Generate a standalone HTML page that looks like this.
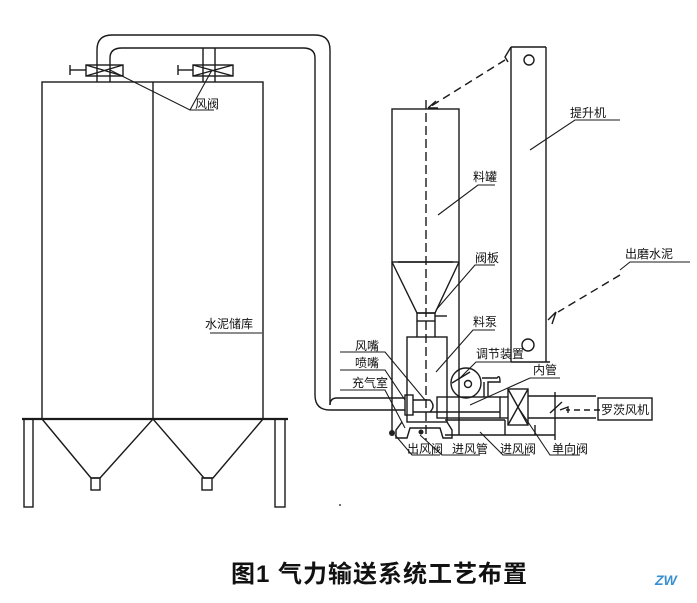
<!DOCTYPE html>
<html><head><meta charset="utf-8"><style>
html,body{margin:0;padding:0;background:#fff;}
svg text{font-family:"Liberation Sans","Noto Sans CJK SC",sans-serif;fill:#111;}
</style></head><body>
<svg width="697" height="598" viewBox="0 0 697 598" xmlns="http://www.w3.org/2000/svg">
<g fill="none" stroke="#1a1a1a" stroke-width="1.4">
<!-- silos -->
<rect x="42" y="82" width="221" height="337"/>
<line x1="153" y1="82" x2="153" y2="419"/>
<line x1="22" y1="419" x2="288" y2="419" stroke-width="2.2"/>
<rect x="24" y="419" width="9" height="88"/>
<rect x="275" y="419" width="10" height="88"/>
<polyline points="42,419 91,478 100,478 153,419 204,478 213,478 263,419"/>
<rect x="91" y="478" width="9" height="12"/>
<rect x="202" y="478" width="10" height="12"/>
<!-- pipes -->
<path d="M97,62 L97,50 Q97,35 112,35 L315,35 Q330,35 330,50 L330,405"/>
<path d="M110,62 L110,58 Q110,48 122,48 L303,48 Q315,48 315,58 L315,395 Q315,410 330,410 L405,410"/>
<path d="M330,405 Q330,398 337,398 L405,398"/>
<path d="M203,62 L203,48 M215,62 L215,48"/>
<line x1="97" y1="62" x2="97" y2="82"/><line x1="110" y1="62" x2="110" y2="82"/>
<line x1="203" y1="62" x2="203" y2="82"/><line x1="215" y1="62" x2="215" y2="82"/>
<!-- valves -->
<line x1="70" y1="65" x2="70" y2="75"/><line x1="70" y1="70" x2="86" y2="70"/>
<rect x="86" y="65" width="37" height="11"/><path d="M86,65 L123,76 M86,76 L123,65"/>
<line x1="178" y1="65" x2="178" y2="75"/><line x1="178" y1="70" x2="193" y2="70"/>
<rect x="193" y="65" width="40" height="11"/><path d="M193,65 L233,76 M193,76 L233,65"/>
<polyline points="110,70 190,110 214,110" stroke-width="1.1"/>
<line x1="190" y1="110" x2="212" y2="70" stroke-width="1.1"/>
<!-- material tank -->
<rect x="392" y="109" width="67" height="153"/>
<line x1="392" y1="262" x2="392" y2="435"/><line x1="459" y1="262" x2="459" y2="435"/>
<polyline points="392,262 417,313 435,313 459,262"/>
<line x1="398" y1="262" x2="453" y2="262"/>
<rect x="417" y="313" width="18" height="8"/>
<line x1="417" y1="321" x2="417" y2="337"/><line x1="435" y1="321" x2="435" y2="337"/>
<line x1="435" y1="316" x2="447" y2="316"/>
<rect x="407" y="337" width="40" height="85"/>
<line x1="426" y1="100" x2="426" y2="440" stroke-dasharray="9,4"/>
<!-- pump bottom -->
<polyline points="402,422 396,430 396,438 407,438 410,428 440,428 443,438 452,438 452,430 447,422"/>
<rect x="405" y="395" width="8" height="20"/>
<path d="M413,400 L430,400 Q436,406 430,412 L413,412"/>
<rect x="437" y="397" width="63" height="21"/>
<line x1="430" y1="412" x2="500" y2="412"/>
<line x1="445" y1="420" x2="505" y2="420"/>
<line x1="445" y1="435" x2="555" y2="435"/>
<line x1="505" y1="420" x2="505" y2="435"/><line x1="535" y1="425" x2="535" y2="435"/>
<rect x="508" y="389" width="20" height="36"/><path d="M508,389 L528,425 M508,425 L528,389"/>
<line x1="500" y1="397" x2="508" y2="397"/><line x1="500" y1="418" x2="508" y2="418"/>
<line x1="528" y1="396" x2="596" y2="396"/><line x1="528" y1="418" x2="596" y2="418"/>
<line x1="555" y1="392" x2="555" y2="440"/>
<line x1="550" y1="413" x2="562" y2="402"/>
<circle cx="466" cy="383" r="15"/><circle cx="468" cy="384" r="3.5"/>
<line x1="452" y1="383" x2="470" y2="372"/>
<path d="M482,378 L497,378 Q500,374 500,382 L497,382 L488,382 L488,397 M484,382 L484,397"/>
<!-- elevator -->
<line x1="511" y1="47" x2="511" y2="362"/><line x1="546" y1="47" x2="546" y2="362"/>
<line x1="511" y1="47" x2="546" y2="47"/>
<line x1="511" y1="362" x2="550" y2="362"/>
<circle cx="529" cy="60" r="5"/><circle cx="528" cy="345" r="6"/>
<path d="M511,47 L505,57 L508,62"/>
<line x1="505" y1="60" x2="428" y2="108" stroke-dasharray="8,5"/>
<path d="M428,108 L436,101 M428,108 L438,108"/>
<line x1="620" y1="275" x2="558" y2="312" stroke-dasharray="8,5"/>
<path d="M548,320 L556,312 L552,324"/>
<line x1="600" y1="410" x2="566" y2="410" stroke-dasharray="6,4"/>
<path d="M560,410 L568,407 L568,413"/>
<rect x="598" y="398" width="54" height="22"/>
<!-- leaders -->
<g stroke-width="1.1">
<polyline points="620,270 630,262 690,262"/>
<polyline points="530,150 575,120 620,120"/>
<polyline points="438,215 478,185 495,185"/>
<polyline points="436,310 475,265 495,265"/>
<polyline points="436,372 473,330 495,330"/>
<polyline points="460,378 476,362 525,362"/>
<polyline points="470,405 530,378 560,378"/>
<polyline points="340,352 385,352 425,400"/>
<polyline points="340,370 385,370 405,400"/>
<polyline points="340,390 385,390 405,428"/>
<polyline points="395,435 412,455 440,455"/>
<polyline points="420,435 442,455 480,455"/>
<polyline points="480,432 503,455 530,455"/>
<polyline points="520,410 550,455 580,455"/>
<line x1="210" y1="333" x2="262" y2="333"/>
</g>
</g>
<circle cx="392" cy="433" r="3" fill="#222"/>
<circle cx="421" cy="432" r="2.5" fill="#222"/>
<circle cx="340" cy="505" r="1" fill="#444"/>
<g font-size="12">
<text x="195" y="108">风阀</text>
<text x="570" y="117">提升机</text>
<text x="473" y="181">料罐</text>
<text x="475" y="262">阀板</text>
<text x="625" y="258">出磨水泥</text>
<text x="473" y="326">料泵</text>
<text x="205" y="328">水泥储库</text>
<text x="355" y="350">风嘴</text>
<text x="355" y="367">喷嘴</text>
<text x="352" y="387">充气室</text>
<text x="476" y="358">调节装置</text>
<text x="533" y="374">内管</text>
<text x="601" y="414">罗茨风机</text>
<text x="407" y="453">出风阀</text>
<text x="452" y="453">进风管</text>
<text x="500" y="453">进风阀</text>
<text x="552" y="453">单向阀</text>
</g>
<text x="231" y="582" font-size="24" font-weight="bold" letter-spacing="1">图1  气力输送系统工艺布置</text>
<text x="655" y="585" font-size="14" font-weight="bold" font-style="italic" style="fill:#3a8fd0">ZW</text>
</svg>
</body></html>
